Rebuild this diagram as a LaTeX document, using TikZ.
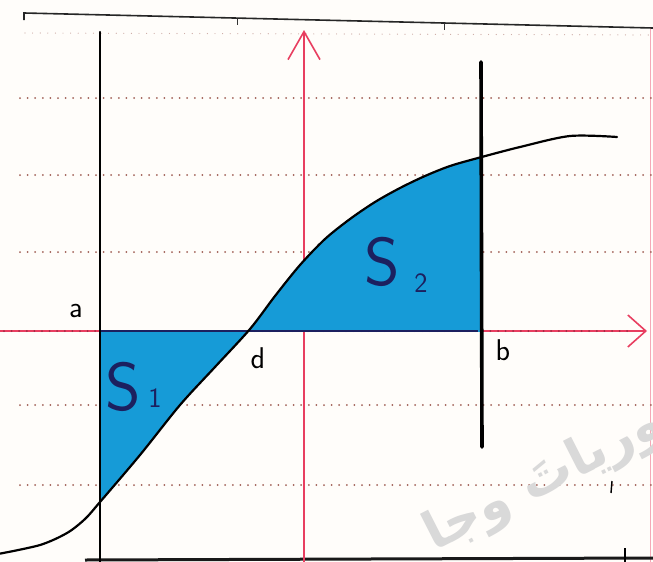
\documentclass[tikz,border=0pt]{standalone}
\usepackage{fontspec}
\newfontfamily\arabicfont[Script=Arabic]{DejaVu Sans}
\TeXXeTstate=1
\usetikzlibrary{arrows.meta}
\definecolor{fillblue}{RGB}{22,155,215}
\definecolor{axisred}{RGB}{232,62,96}
\definecolor{dotbrown}{RGB}{160,95,85}
\definecolor{navy}{RGB}{28,32,95}
\definecolor{paper}{RGB}{255,253,250}
\begin{document}
\begin{tikzpicture}[x=1pt,y=-1pt,
  gridline/.style={dotbrown, line width=2pt, dash pattern=on 0pt off 7.6pt, line cap=round},
  axisline/.style={axisred, line width=1.4pt},
  curveline/.style={black, line width=2.2pt, line cap=round},
  vline/.style={black, line cap=round},
  lbl/.style={font=\sffamily\fontsize{30}{30}\selectfont, inner sep=0pt},
  slbl/.style={navy, font=\sffamily\fontsize{68}{68}\selectfont, inner sep=0pt},
  sub/.style={navy, font=\sffamily\fontsize{28}{28}\selectfont, inner sep=0pt},
  barb/.style={-{Straight Barb[length=#1, width=32pt, line width=1.6pt]}}
]
\useasboundingbox (0,0) rectangle (653,562);
\fill[paper] (0,0) rectangle (653,562);
\def\curvepts{(-2,554) (40,545) (67,533) (85,519) (100,502) (140,455) (180,405) (215,367) (250,329) (275,296) (300,265) (325,239) (350,219) (375,202) (400,188) (425,176) (450,166) (478,158) (520,147) (570,136) (617,137)}

% page margin (faint)
\draw[axisred!45, line width=1pt] (650,28) -- (650,562);

% ruled paper dotted lines
\draw[gridline, line width=1.2pt, dotbrown!55] (25,33) -- (653,35);
\foreach \yy in {98,175,252,405,485} {
  \draw[gridline] (20,\yy) -- (653,\yy);
}

% top border
\draw[black!85, line width=1.6pt] (24,20) -- (24,13) -- (653,28);
\draw[black!80, line width=1pt] (237,19) -- (237,25);
\draw[black!80, line width=1pt] (444,23) -- (444,30);

% bottom border
\draw[black!90, line width=3pt] (85,560) -- (653,558);
\draw[black, line width=1.2pt] (625,548) -- (625,562);
\draw[black, line width=1.4pt] (612,481) -- (611,493);

% x axis (red)
\draw[axisline, barb=18pt] (0,331) -- (647,331);
\draw[gridline, axisred!70!black] (4,331) -- (630,331);

% y axis (red)
\draw[axisline, barb=28pt] (304,562) -- (304,30);

% shaded areas
\begin{scope}
  \clip (100,331) rectangle (250,562);
  \fill[fillblue] plot[smooth] coordinates {\curvepts} -- (653,0) -- (0,0) -- cycle;
\end{scope}
\begin{scope}
  \clip (250,0) rectangle (480,331);
  \fill[fillblue] plot[smooth] coordinates {\curvepts} -- (653,562) -- (0,562) -- cycle;
\end{scope}
\draw[navy, line width=1.6pt] (100,331) -- (478,331);

% vertical lines a and b
\draw[vline, line width=2.4pt] (100,32) -- (100,562);
\draw[vline, line width=3.6pt] (481,62) -- (482,447);

% the curve
\draw[curveline] plot[smooth] coordinates {\curvepts};

% labels
\node[lbl] (la) at (76,311) {a};
\node[lbl] (ld) at (258,358) {d};
\node[lbl] (lb) at (503,350) {b};
\node[slbl] (s1) at (123,387) {S};
\node[sub] (s1n) at (155,398) {1};
\node[slbl] (s2) at (382,262) {S};
\node[sub] (s2n) at (421,283) {2};

% watermark
\begin{scope}
  \clip (0,0) rectangle (653,562);
  \node[gray!30, rotate=27, font=\arabicfont\bfseries\fontsize{52}{52}\selectfont, inner sep=0pt] (wm) at (545,480) {\beginR وریاتَ وجا\endR};
\end{scope}
\end{tikzpicture}
\end{document}
